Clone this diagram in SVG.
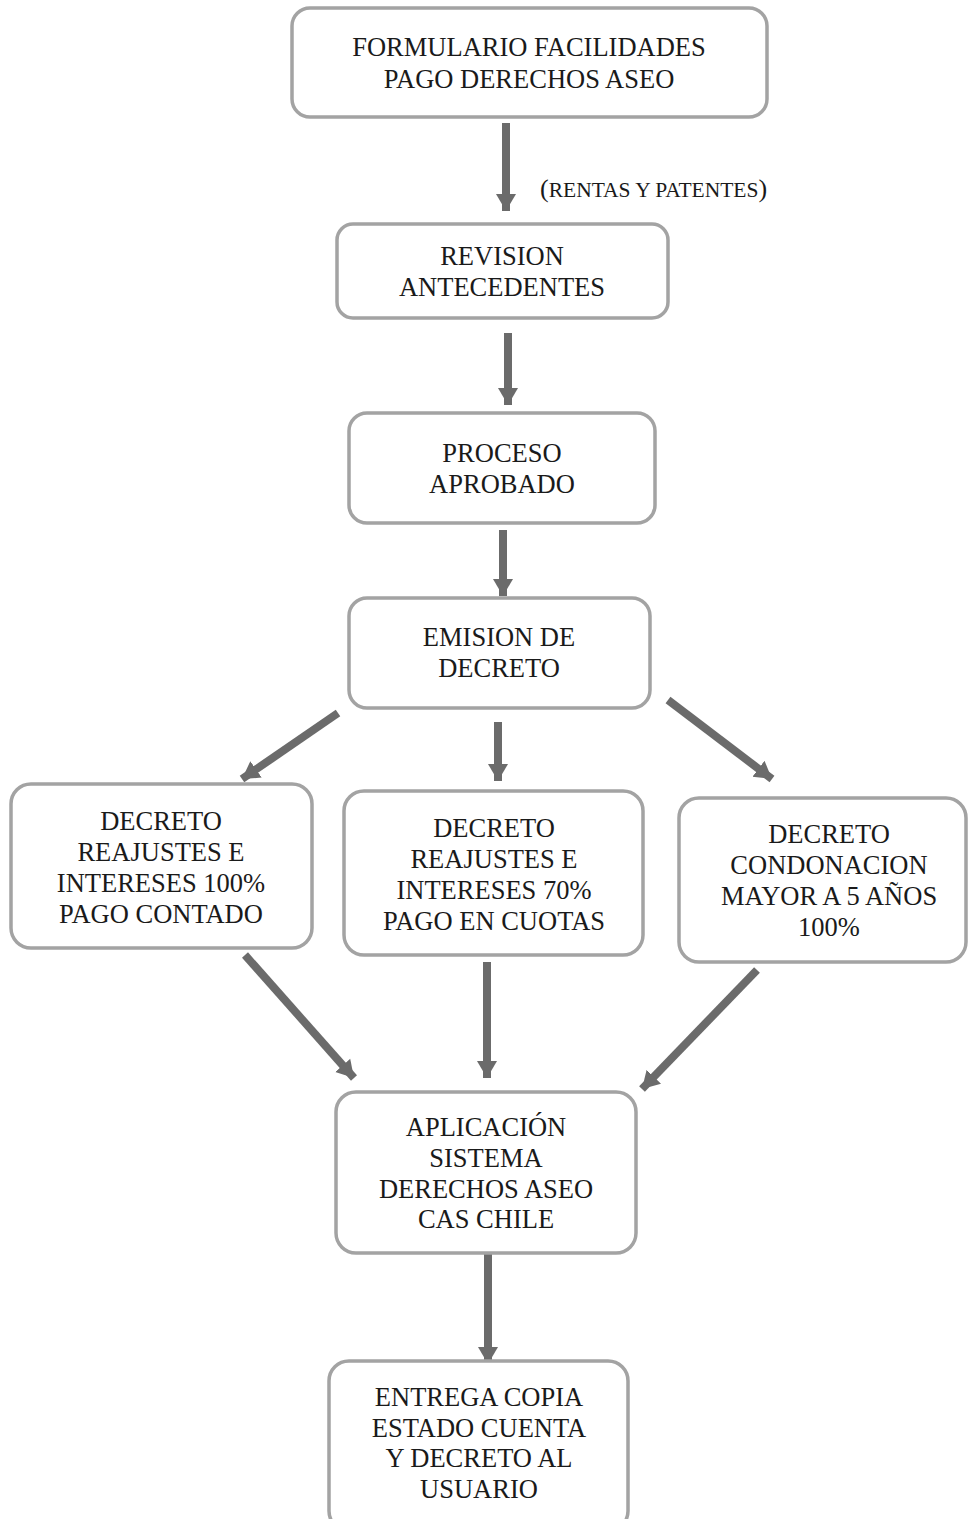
<svg xmlns="http://www.w3.org/2000/svg" width="968" height="1519" viewBox="0 0 968 1519">
<style>
.box{fill:#ffffff;stroke:#a3a3a3;stroke-width:3.5}
.t{font-family:"Liberation Serif","Times New Roman",serif;font-size:26.5px;fill:#1a1a1a;text-anchor:middle}
.c{stroke:#6b6b6b;stroke-width:8;fill:none;marker-end:url(#ah)}
</style>
<defs>
<marker id="ah" markerUnits="userSpaceOnUse" markerWidth="22" markerHeight="22" viewBox="0 0 22 22" refX="17" refY="11" orient="auto">
<path d="M0,1 L17,11 L0,21 Z" fill="#6b6b6b"/>
</marker>
</defs>
<rect width="968" height="1519" fill="#ffffff"/>
<g id="connectors">
<line class="c" x1="506" y1="123" x2="506" y2="211"/>
<line class="c" x1="508" y1="333" x2="508" y2="405"/>
<line class="c" x1="503" y1="530" x2="503" y2="596"/>
<line class="c" x1="338" y1="713" x2="242" y2="779"/>
<line class="c" x1="498" y1="722" x2="498" y2="781"/>
<line class="c" x1="668" y1="700" x2="772" y2="779"/>
<line class="c" x1="245" y1="955" x2="354" y2="1078"/>
<line class="c" x1="487" y1="962" x2="487" y2="1078"/>
<line class="c" x1="757" y1="970" x2="642" y2="1089"/>
<line class="c" x1="488" y1="1249" x2="488" y2="1364"/>
<text x="540" y="197" style="font-family:'Liberation Serif','Times New Roman',serif;fill:#1a1a1a"><tspan font-size="26">(</tspan><tspan font-size="21.5">RENTAS Y PATENTES</tspan><tspan font-size="26">)</tspan></text>
</g>
<g id="n1"><rect class="box" x="292" y="8" width="475" height="109" rx="18"/>
<text class="t" x="529" y="56">FORMULARIO FACILIDADES</text><text class="t" x="529" y="88">PAGO DERECHOS ASEO</text></g>
<g id="n2"><rect class="box" x="337" y="224" width="331" height="94" rx="16"/>
<text class="t" x="502" y="265">REVISION</text><text class="t" x="502" y="296">ANTECEDENTES</text></g>
<g id="n3"><rect class="box" x="349" y="413" width="306" height="110" rx="18"/>
<text class="t" x="502" y="462">PROCESO</text><text class="t" x="502" y="493">APROBADO</text></g>
<g id="n4"><rect class="box" x="349" y="598" width="301" height="110" rx="18"/>
<text class="t" x="499" y="646">EMISION DE</text><text class="t" x="499" y="677">DECRETO</text></g>
<g id="n5"><rect class="box" x="11" y="784" width="301" height="164" rx="20"/>
<text class="t" x="161" y="830">DECRETO</text><text class="t" x="161" y="861">REAJUSTES E</text><text class="t" x="161" y="892">INTERESES 100%</text><text class="t" x="161" y="923">PAGO CONTADO</text></g>
<g id="n6"><rect class="box" x="344" y="791" width="299" height="164" rx="20"/>
<text class="t" x="494" y="837">DECRETO</text><text class="t" x="494" y="868">REAJUSTES E</text><text class="t" x="494" y="899">INTERESES 70%</text><text class="t" x="494" y="930">PAGO EN CUOTAS</text></g>
<g id="n7"><rect class="box" x="679" y="798" width="287" height="164" rx="20"/>
<text class="t" x="829" y="843">DECRETO</text><text class="t" x="829" y="874">CONDONACION</text><text class="t" x="829" y="905">MAYOR A 5 AÑOS</text><text class="t" x="829" y="936">100%</text></g>
<g id="n8"><rect class="box" x="336" y="1092" width="300" height="161" rx="20"/>
<text class="t" x="486" y="1136">APLICACIÓN</text><text class="t" x="486" y="1167">SISTEMA</text><text class="t" x="486" y="1198">DERECHOS ASEO</text><text class="t" x="486" y="1228">CAS CHILE</text></g>
<g id="n9"><rect class="box" x="329" y="1361" width="299" height="170" rx="20"/>
<text class="t" x="479" y="1406">ENTREGA COPIA</text><text class="t" x="479" y="1437">ESTADO CUENTA</text><text class="t" x="479" y="1467">Y DECRETO AL</text><text class="t" x="479" y="1498">USUARIO</text></g>
</svg>
